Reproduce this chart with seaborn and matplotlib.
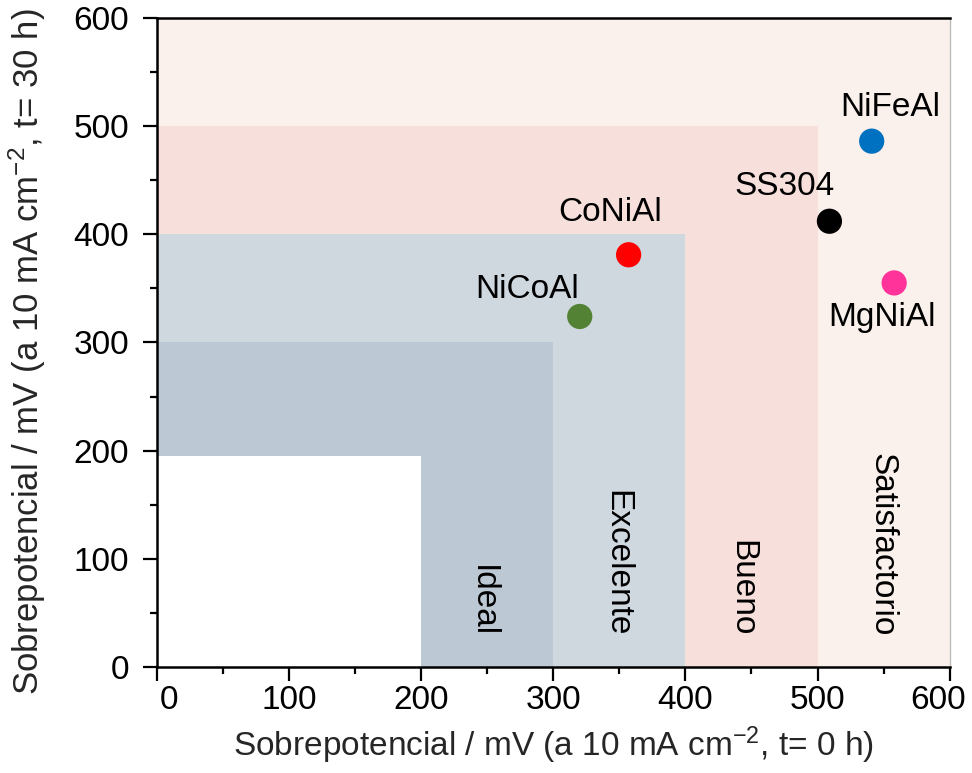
import matplotlib
matplotlib.use("Agg")
import matplotlib.pyplot as plt
import matplotlib.transforms as mtransforms
import seaborn as sns
import pandas as pd
from matplotlib.patches import Rectangle
from matplotlib.ticker import MultipleLocator

# Data
samples = ["NiFeAl", "SS304", "MgNiAl", "CoNiAl", "NiCoAl"]
eta_0h = [541, 509, 558, 357, 320]
eta_30h = [486, 412, 355, 381, 324]
colors = ["#0070C0", "#000000", "#FF3399", "#FF0000", "#548235"]
label_x = [555, 475, 549, 343, 280]
label_y = [517, 444, 323, 420, 349]

# Performance zones (upper bounds in x and y) and names
zone_x = [600, 500, 400, 300, 200]
zone_y = [600, 500, 400, 300, 195]
zone_colors = ["#FBF1EC", "#F7E0DB", "#CFD7DF", "#BCC8D4", "#FFFFFF"]
zone_names = ["Ideal", "Excelente", "Bueno", "Satisfactorio"]
zone_name_x = [246, 348, 443, 549]

FS = 24

sns.set_theme(style="ticks")
plt.rcParams["font.family"] = ["Liberation Sans", "DejaVu Sans"]
plt.rcParams["mathtext.fontset"] = "custom"
plt.rcParams["mathtext.rm"] = "Liberation Sans"
plt.rcParams["mathtext.it"] = "Liberation Sans:italic"
plt.rcParams["mathtext.bf"] = "Liberation Sans:bold"

fig = plt.figure(figsize=(9.72, 7.73), dpi=100)
ax = fig.add_axes([0.1615, 0.137, 0.8155, 0.840])

for zx, zy, zc in zip(zone_x, zone_y, zone_colors):
    ax.add_patch(Rectangle((0, 0), zx, zy, facecolor=zc, edgecolor="none", zorder=0))

df = pd.DataFrame({"x": eta_0h, "y": eta_30h, "sample": samples})
sns.scatterplot(data=df, x="x", y="y", hue="sample", palette=dict(zip(samples, colors)),
                s=330, edgecolor="none", legend=False, ax=ax, zorder=3)

for name, tx, ty in zip(samples, label_x, label_y):
    ax.text(tx, ty, name, fontsize=FS, ha="center", va="center", color="black")

for name, tx in zip(zone_names, zone_name_x):
    ax.text(tx, 28, name, fontsize=FS, rotation=-90, ha="center", va="bottom", color="black")

ax.set_xlim(0, 600)
ax.set_ylim(0, 600)
ax.set_xticks([0, 100, 200, 300, 400, 500, 600])
ax.set_yticks([0, 100, 200, 300, 400, 500, 600])
ax.xaxis.set_minor_locator(MultipleLocator(50))
ax.yaxis.set_minor_locator(MultipleLocator(50))
ax.tick_params(which="major", length=10, width=1.6, labelsize=FS, direction="out", colors="black")
ax.tick_params(which="minor", length=5, width=1.6, direction="out", colors="black")
ax.tick_params(axis="x", pad=3)
ax.tick_params(axis="y", pad=10)

for side in ["left", "bottom", "top"]:
    ax.spines[side].set_linewidth(1.8)
    ax.spines[side].set_color("black")
ax.spines["right"].set_linewidth(1.0)
ax.spines["right"].set_color("#BBBBBB")
ax.spines["top"].set_visible(True)
ax.spines["right"].set_visible(True)

ax.set_xlabel("Sobrepotencial / mV (a 10 mA cm$^{-2}$, t= 0 h)", fontsize=FS, labelpad=6)
ax.set_ylabel("Sobrepotencial / mV (a 10 mA cm$^{-2}$, t= 30 h)", fontsize=25)
ax.yaxis.set_label_coords(-0.137, 0.485)

fig.canvas.draw()
xticks = ax.xaxis.get_major_ticks()
shift_first = mtransforms.ScaledTranslation(12 / 100, 0, fig.dpi_scale_trans)
shift_last = mtransforms.ScaledTranslation(-12 / 100, 0, fig.dpi_scale_trans)
xticks[0].label1.set_transform(xticks[0].label1.get_transform() + shift_first)
xticks[-1].label1.set_transform(xticks[-1].label1.get_transform() + shift_last)

fig.savefig("out.png", dpi=100)
